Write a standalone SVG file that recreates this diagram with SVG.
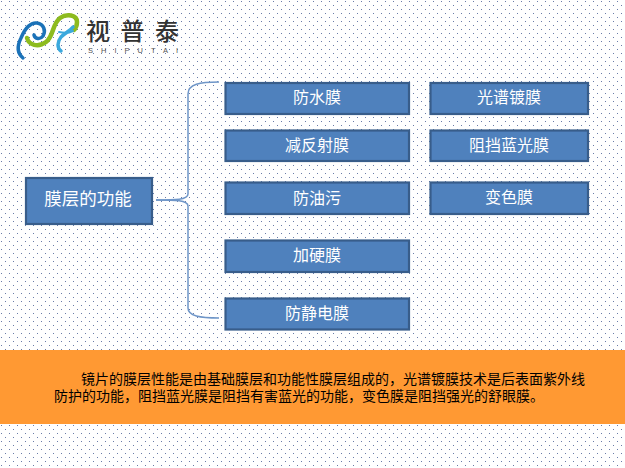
<svg xmlns="http://www.w3.org/2000/svg" width="625" height="468" viewBox="0 0 625 468">
<style>
.n{fill:#4f81bd;stroke:#385d8a;stroke-width:2.2}
.t{fill:#fff;font-family:"Noto Sans CJK SC","Noto Sans",sans-serif;font-size:16px;text-anchor:middle}
.b{fill:#000;font-family:"Liberation Sans","Noto Sans CJK SC",sans-serif;font-size:14px}
.c{fill:none;stroke:#6f96c8;stroke-width:1.5}
</style>
<defs>
<pattern id="dots" width="8" height="8" patternUnits="userSpaceOnUse">
<rect x="1" y="1" width="1" height="1" fill="#6a7ca8"/>
<rect x="5" y="5" width="1" height="1" fill="#6a7ca8"/>
</pattern>
</defs>
<rect width="625" height="468" fill="#fff"/>
<rect width="625" height="468" fill="url(#dots)"/>
<g id="logo">
<path d="M23 58C17 53 17 46 21 38C25 28 31 22 37 23C44 24 46 31 43 36C40 40 35 39 34 35" fill="none" stroke="#1b72b8" stroke-width="3.5" stroke-linecap="round"/>
<path d="M27 38C29 45 38 48 46 42C54 36 52 24 60 18C67 13 77 15 77 22C77 26 76 28 74 30" fill="none" stroke="#8dbb1f" stroke-width="4.5" stroke-linecap="round"/>
<path d="M61 51C57 48 57 42 61 37C65 33 70 31 73 27" fill="none" stroke="#3ba9dd" stroke-width="3.5" stroke-linecap="round"/>
<path d="M59 32C63 33 69 33 73 31" fill="none" stroke="#3ba9dd" stroke-width="2" stroke-linecap="round"/>
<text x="86" y="40" font-family="'Noto Sans CJK SC',sans-serif" font-size="24" font-weight="500" letter-spacing="10.5" fill="#333">视普泰</text>
<text x="88" y="53" font-family="'Liberation Sans',sans-serif" font-size="7.5" letter-spacing="8" fill="#555">SHIPUTAI</text>
</g>
<g id="connectors">
<path class="c" d="M156 200C175 200 188 200 188 194V94C188 84 200 82 219 82"/>
<path class="c" d="M156 200C175 200 188 200 188 206V308C188 316 200 318 219 318"/>
</g>
<g id="node-root"><rect class="n" x="26" y="178" width="126" height="46"/><text class="t" x="88" y="205" style="font-size:17.5px">膜层的功能</text></g>
<g id="node-1"><rect class="n" x="225.5" y="83" width="183.5" height="31"/><text class="t" x="317" y="103">防水膜</text></g>
<g id="node-2"><rect class="n" x="225.5" y="130.5" width="183.5" height="30.5"/><text class="t" x="317" y="151">减反射膜</text></g>
<g id="node-3"><rect class="n" x="225.5" y="182.5" width="183.5" height="31.5"/><text class="t" x="317" y="204">防油污</text></g>
<g id="node-4"><rect class="n" x="225.5" y="240.5" width="183.5" height="31.5"/><text class="t" x="317" y="261">加硬膜</text></g>
<g id="node-5"><rect class="n" x="225.5" y="298.5" width="183.5" height="31"/><text class="t" x="317" y="319">防静电膜</text></g>
<g id="node-6"><rect class="n" x="430.5" y="83" width="157.5" height="31"/><text class="t" x="509" y="103">光谱镀膜</text></g>
<g id="node-7"><rect class="n" x="430.5" y="130.5" width="157.5" height="30.5"/><text class="t" x="509" y="151">阻挡蓝光膜</text></g>
<g id="node-8"><rect class="n" x="430.5" y="182.5" width="157.5" height="31.5"/><text class="t" x="509" y="203">变色膜</text></g>
<g id="note">
<rect x="0" y="350" width="625" height="74" fill="#ff9933"/>
<text class="b"><tspan x="81" y="383.5">镜片的膜层性能是由基础膜层和功能性膜层组成的，光谱镀膜技术是后表面紫外线</tspan><tspan x="54" y="400.5">防护的功能，阻挡蓝光膜是阻挡有害蓝光的功能，变色膜是阻挡强光的舒眼膜。</tspan></text>
</g>
</svg>
